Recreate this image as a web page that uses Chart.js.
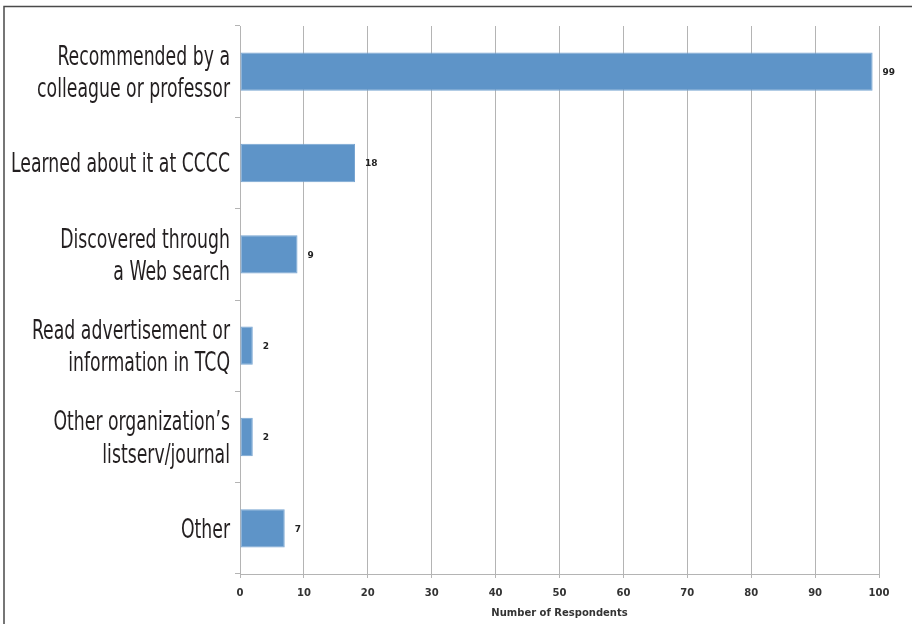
<!DOCTYPE html>
<html>
<head>
<meta charset="utf-8">
<script src="https://cdn.jsdelivr.net/npm/chart.js@4/dist/chart.umd.min.js"></script>
<style>
  html, body { margin: 0; padding: 0; background: #ffffff; }
  #wrap { position: relative; width: 912px; height: 624px; }
</style>
</head>
<body>
<div id="wrap"><canvas id="chart"></canvas></div>
<script>
// How respondents heard about it
const categories = [
  ['Recommended by a', 'colleague or professor'],
  'Learned about it at CCCC',
  ['Discovered through', 'a Web search'],
  ['Read advertisement or', 'information in TCQ'],
  ['Other organization\u2019s', 'listserv/journal'],
  'Other'
];
const respondents = [99, 18, 9, 2, 2, 7];
const xTicks = [0, 10, 20, 30, 40, 50, 60, 70, 80, 90, 100];
const axisTitle = 'Number of Respondents';

const labelFont = "'DejaVu Sans', sans-serif";
const smallFont = "'DejaVu Sans', Verdana, sans-serif";

// Frame along the top and left edges
const framePlugin = {
  id: 'frame',
  beforeDraw(chart) {
    const ctx = chart.ctx;
    ctx.save();
    ctx.strokeStyle = '#4a4a4a';
    ctx.lineWidth = 1.5;
    ctx.beginPath();
    ctx.moveTo(4, chart.height);
    ctx.lineTo(4, 6.5);
    ctx.lineTo(chart.width, 6.5);
    ctx.stroke();
    ctx.restore();
  }
};

// Condensed category labels, right-aligned next to the y axis
const categoryLabels = {
  id: 'categoryLabels',
  afterDraw(chart) {
    const scale = chart.scales.y;
    const ctx = chart.ctx;
    const size = 26;
    const squeeze = 0.665;
    const lineGap = 32.4;
    const capHalf = size * 0.729 / 2;
    const rightEdge = scale.right - 10;
    ctx.save();
    ctx.font = size + 'px ' + labelFont;
    ctx.fillStyle = '#231f20';
    ctx.textAlign = 'right';
    ctx.textBaseline = 'alphabetic';
    categories.forEach((label, i) => {
      const lines = Array.isArray(label) ? label : [label];
      const yc = scale.getPixelForTick(i);
      lines.forEach((line, k) => {
        const base = yc + capHalf + (k - (lines.length - 1) / 2) * lineGap;
        ctx.save();
        ctx.translate(rightEdge, base);
        ctx.scale(squeeze, 1);
        ctx.fillText(line, 0, 0);
        ctx.restore();
      });
    });
    ctx.restore();
  }
};

// Value printed just past the end of each bar
const valueLabels = {
  id: 'valueLabels',
  afterDatasetsDraw(chart) {
    const ctx = chart.ctx;
    const meta = chart.getDatasetMeta(0);
    ctx.save();
    ctx.font = 'bold 9px ' + smallFont;
    ctx.fillStyle = '#222222';
    ctx.textAlign = 'left';
    ctx.textBaseline = 'middle';
    meta.data.forEach((bar, i) => {
      ctx.fillText(String(respondents[i]), bar.x + 10, bar.y + 1);
    });
    ctx.restore();
  }
};

new Chart(document.getElementById('chart'), {
  type: 'bar',
  data: {
    labels: categories,
    datasets: [{
      data: respondents,
      backgroundColor: '#5e94c8',
      borderColor: '#78a5d2',
      borderWidth: 1,
      borderSkipped: false,
      barPercentage: 0.42,
      categoryPercentage: 1.0
    }]
  },
  options: {
    indexAxis: 'y',
    responsive: true,
    maintainAspectRatio: false,
    animation: false,
    layout: { padding: { left: 0, right: 33, top: 26, bottom: 0 } },
    plugins: {
      legend: { display: false },
      tooltip: { enabled: false }
    },
    scales: {
      x: {
        min: 0,
        max: 100,
        afterBuildTicks(scale) {
          scale.ticks = xTicks.map(v => ({ value: v }));
        },
        afterFit(scale) { scale.height = 50; },
        grid: {
          color: '#b4b4b4',
          lineWidth: 1,
          tickLength: 4,
          drawTicks: true
        },
        border: { color: '#b4b4b4', width: 1 },
        ticks: {
          padding: 9,
          color: '#333333',
          font: { family: smallFont, size: 10, weight: 'bold' },
          maxRotation: 0
        },
        title: {
          display: true,
          text: axisTitle,
          color: '#333333',
          font: { family: smallFont, size: 10, weight: 'bold' },
          padding: { top: 0, bottom: 5 }
        }
      },
      y: {
        afterFit(scale) { scale.width = 240; },
        grid: {
          drawOnChartArea: false,
          color: '#b4b4b4',
          tickLength: 5,
          offset: true
        },
        border: { color: '#b4b4b4', width: 1 },
        ticks: { display: false }
      }
    }
  },
  plugins: [framePlugin, categoryLabels, valueLabels]
});
</script>
</body>
</html>
